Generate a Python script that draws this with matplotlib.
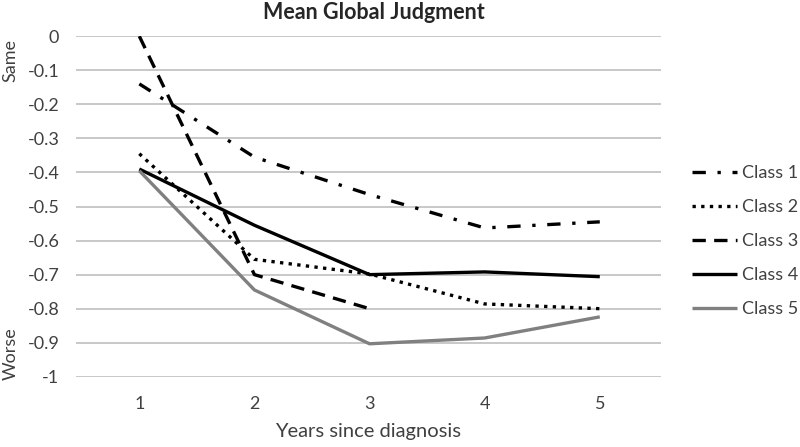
import matplotlib
matplotlib.use("Agg")
import matplotlib.pyplot as plt

plt.rcParams["font.family"] = ["Lato", "DejaVu Sans"]

TEXT = "#404040"

years = [1, 2, 3, 4, 5]
class_1 = [-0.14, -0.355, -0.465, -0.563, -0.545]
class_2 = [-0.345, -0.655, -0.698, -0.786, -0.80]
class_3 = [0.0, -0.70, -0.80]
class_4 = [-0.39, -0.555, -0.70, -0.692, -0.706]
class_5 = [-0.395, -0.745, -0.903, -0.886, -0.824]

y_ticks = [0, -0.1, -0.2, -0.3, -0.4, -0.5, -0.6, -0.7, -0.8, -0.9, -1]
y_tick_labels = ["0", "-0.1", "-0.2", "-0.3", "-0.4", "-0.5", "-0.6",
                 "-0.7", "-0.8", "-0.9", "-1"]

fig = plt.figure(figsize=(8, 4.47), dpi=100)
ax = fig.add_axes([0.095, 0.157, 0.731, 0.762])

lw = 2.4
series = [
    ("Class 1", class_1, "black", (0, (4, 3.5, 1, 3.5))),
    ("Class 2", class_2, "black", (0, (1, 1.6))),
    ("Class 3", class_3, "black", (0, (4, 2.5))),
    ("Class 4", class_4, "black", "-"),
    ("Class 5", class_5, "#808080", "-"),
]
for name, vals, color, ls in series:
    ax.plot(years[:len(vals)], vals, color=color, lw=lw, linestyle=ls,
            dash_capstyle="butt", solid_capstyle="butt", label=name)

ax.set_xlim(0.45, 5.53)
ax.set_ylim(-1, 0)
ax.set_yticks(y_ticks)
ax.set_yticklabels(y_tick_labels)
ax.set_xticks(years)
ax.grid(axis="y", color="#bfbfbf", lw=1.2)
ax.set_axisbelow(True)
for s in ax.spines.values():
    s.set_visible(False)
ax.tick_params(length=0, labelsize=13, colors=TEXT)
ax.tick_params(axis="y", pad=12)
ax.tick_params(axis="x", pad=14)

ax.set_xlabel("Years since diagnosis", fontsize=14.5, color=TEXT, labelpad=8)
fig.text(0.467, 0.973, "Mean Global Judgment", ha="center", va="center",
         fontsize=15.5, fontweight="bold", color="#262626")
fig.text(0.013, 0.865, "Same", rotation=90, ha="center", va="center",
         fontsize=13, color=TEXT)
fig.text(0.013, 0.21, "Worse", rotation=90, ha="center", va="center",
         fontsize=13, color=TEXT)

fig.legend(loc="center left", bbox_to_anchor=(0.865, 0.46), frameon=False,
           fontsize=13, labelcolor=TEXT, handlelength=2.5, handletextpad=0.25,
           labelspacing=1.0, borderpad=0, borderaxespad=0)

fig.savefig("out.png", dpi=100)
